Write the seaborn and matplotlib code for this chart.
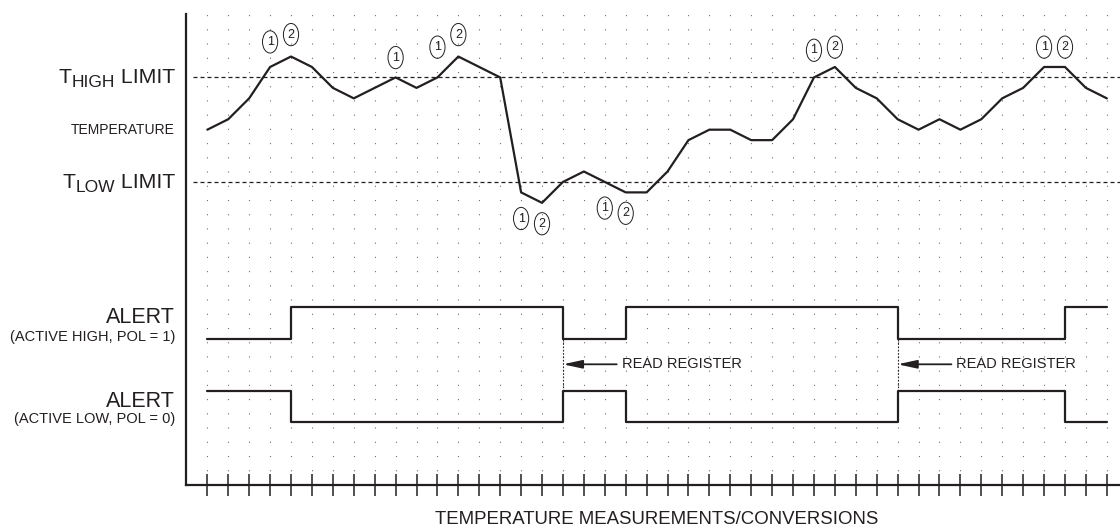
import matplotlib
matplotlib.use('Agg')
import matplotlib.pyplot as plt
import matplotlib.transforms as mtransforms
import seaborn as sns

# one grid column per temperature conversion, values in grid rows
conversions = list(range(44))
temperature = [34, 35, 37, 40, 41, 40, 38, 37, 38, 39,
               38, 39, 41, 40, 39, 28, 27, 29, 30, 29,
               28, 28, 30, 33, 34, 34, 33, 33, 35, 39,
               40, 38, 37, 35, 34, 35, 34, 35, 37, 38,
               40, 40, 38, 37]
t_high = 39
t_low = 29

# ALERT output: edges where it switches, state after each edge (1 = asserted)
alert_edges = [0, 4, 17, 20, 33, 41, 43]
alert_state = [0, 1, 0, 1, 0, 1, 1]
pol1_levels = (14, 17)   # active high trace: (low, high) row
pol0_levels = (6, 9)     # active low trace: (low, high) row
read_register = [17, 33]

# circled event markers (1) limit crossed, (2) fault queue / alert
mark_cols = [3, 4, 9, 11, 12, 15, 16, 19, 20, 29, 30, 40, 41]
mark_rows = [42.4, 43.1, 40.9, 41.9, 43.1, 25.5, 25.0, 26.5, 26.0, 41.6, 41.9, 41.9, 41.9]
mark_text = ['1', '2', '1', '1', '2', '1', '2', '1', '2', '1', '2', '1', '2']

ink = '#231f20'
dot = '#6d6e71'

sns.set_style('white')
plt.rcParams['font.family'] = ['Liberation Sans', 'DejaVu Sans']

fig = plt.figure(figsize=(11.2, 5.27), dpi=100)
ax = fig.add_axes([186 / 1120, 42 / 527, 934 / 1120, 471 / 527])
ax.set_xlim(-1.02, 43.63)
ax.set_ylim(0, 45.07)

# dotted background
ax.set_xticks(conversions)
ax.set_yticks([])
ax.grid(axis='x', color=dot, lw=0.8, linestyle=(0, (1, 11.8)))
ax.tick_params(axis='x', direction='inout', length=16.5, width=1.1, color=ink,
               labelbottom=False, bottom=True)
sns.despine(ax=ax)
for side in ['left', 'bottom']:
    ax.spines[side].set_color(ink)
    ax.spines[side].set_linewidth(1.6)

# limits
ax.hlines([t_high, t_low], -0.69, 43.63, colors=ink, lw=0.9, linestyles=(0, (3.2, 2.4)))

# temperature trace
sns.lineplot(x=conversions, y=temperature, ax=ax, color=ink, lw=1.6, estimator=None)

# alert traces
pol1 = [pol1_levels[s] for s in alert_state]
pol0 = [pol0_levels[1 - s] for s in alert_state]
sns.lineplot(x=alert_edges, y=pol1, ax=ax, color=ink, lw=1.6, estimator=None,
             drawstyle='steps-post')
sns.lineplot(x=alert_edges, y=pol0, ax=ax, color=ink, lw=1.6, estimator=None,
             drawstyle='steps-post')

# read register markers
for c in read_register:
    ax.vlines(c, pol0_levels[1], pol1_levels[0], colors=ink, lw=0.8, linestyles=(0, (1.5, 1.5)))
    ax.annotate('', xy=(c, 11.55), xytext=(c + 2.57, 11.55),
                arrowprops=dict(arrowstyle='-|>,head_length=1.15,head_width=0.25',
                                color=ink, lw=1.3, shrinkA=0, shrinkB=0))
    ax.text(c + 2.8, 11.55, 'READ REGISTER', ha='left', va='center',
            fontsize=10.5, color=ink)

for c, r, t in zip(mark_cols, mark_rows, mark_text):
    ax.text(c, r, t, ha='center', va='center', fontsize=9, color=ink,
            bbox=dict(boxstyle='ellipse,pad=0.15', fc='none', ec=ink, lw=0.7))

# left labels
tr = mtransforms.blended_transform_factory(ax.transAxes, ax.transData)
lx = -0.0118


def limit_label(row, sub):
    t1 = ax.text(lx, row, ' LIMIT', transform=tr, ha='right', va='baseline',
                 fontsize=15.3, color=ink)
    t2 = ax.annotate(sub, xy=(0, 0), xycoords=t1, ha='right', va='bottom',
                     xytext=(0, -2.3), textcoords='offset points', fontsize=12.5, color=ink)
    ax.annotate('T', xy=(0, 0), xycoords=t2, ha='right', va='bottom',
                xytext=(0, 2.3), textcoords='offset points', fontsize=15.3, color=ink)


limit_label(38.45, 'HIGH')
limit_label(28.4, 'LOW')
ax.text(lx, 33.6, 'TEMPERATURE', transform=tr, ha='right', va='baseline',
        fontsize=10, color=ink)
ax.text(lx, 15.47, 'ALERT', transform=tr, ha='right', va='baseline', fontsize=15.5, color=ink)
ax.text(lx, 13.8, '(ACTIVE HIGH, POL = 1)', transform=tr, ha='right', va='baseline',
        fontsize=10.5, color=ink)
ax.text(lx, 7.5, 'ALERT', transform=tr, ha='right', va='baseline', fontsize=15.5, color=ink)
ax.text(lx, 5.9, '(ACTIVE LOW, POL = 0)', transform=tr, ha='right', va='baseline',
        fontsize=10.5, color=ink)

fig.text(657 / 1120, 2.5 / 527, 'TEMPERATURE MEASUREMENTS/CONVERSIONS', ha='center',
         va='baseline', fontsize=13.4, color=ink)

fig.savefig('out.png', dpi=100)
